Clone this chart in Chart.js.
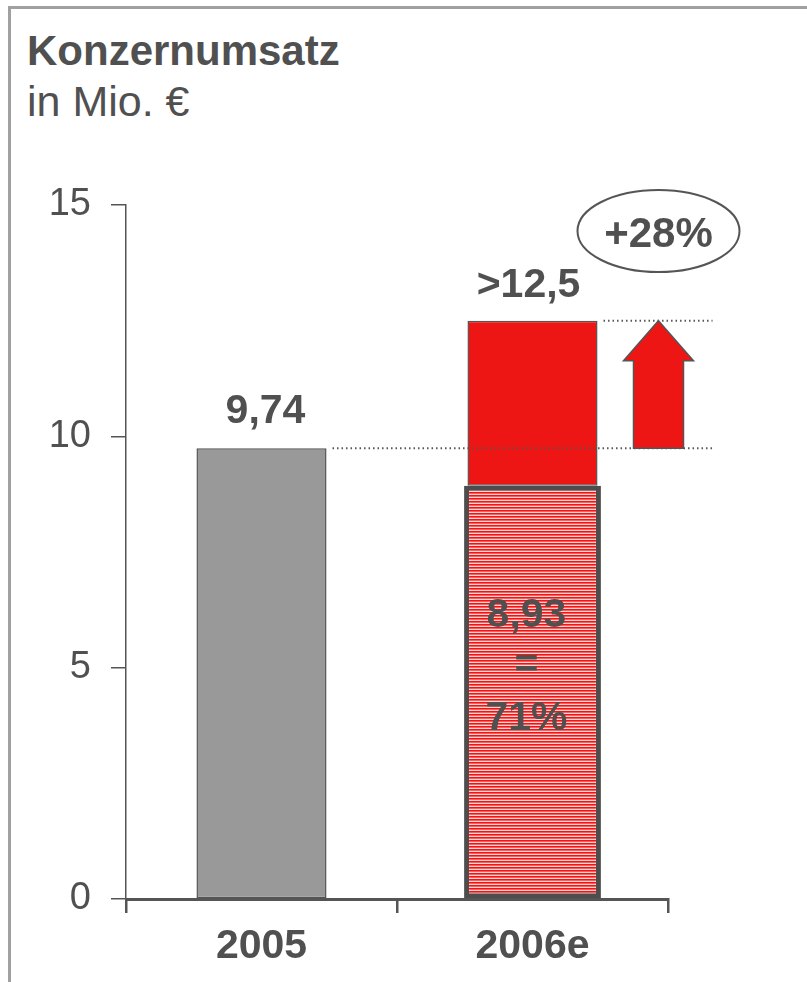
<!DOCTYPE html>
<html>
<head>
<meta charset="utf-8">
<script src="https://cdn.jsdelivr.net/npm/chart.js@4.4.0/dist/chart.umd.min.js"></script>
<style>
  html, body { margin: 0; padding: 0; background: #fff; overflow: hidden; }
  body { width: 807px; height: 982px; position: relative; font-family: "Liberation Sans", Arial, sans-serif; color: #505050; }
  .frame { position: absolute; left: 8px; top: 6px; width: 900px; height: 1100px; border: 3px solid #a0a0a0; box-sizing: border-box; }
  .title { position: absolute; left: 27px; top: 30px; font-size: 42px; font-weight: bold; line-height: 1; white-space: nowrap; }
  .unit { position: absolute; left: 27px; top: 80px; font-size: 43px; line-height: 1; white-space: nowrap; }
  #chart { position: absolute; left: 0; top: 0; }
</style>
</head>
<body>
<div class="frame"></div>
<div class="title">Konzernumsatz</div>
<div class="unit">in Mio. €</div>
<canvas id="chart" width="807" height="982"></canvas>
<script>
// Werte aus dem Bild
const years = ['2005', '2006e'];
const actualValues = [9.74, null];     // Umsatz 2005
const securedValues = [null, 8.93];    // bereits gesichert 2006
const targetValues = [null, 12.5];     // Ziel 2006
const valueLabels = ['9,74', '>12,5'];
const securedLabels = ['8,93', '=', '71%'];
const growthLabel = '+28%';
const yTicks = [0, 5, 10, 15];

const textColor = '#505050';
const lineColor = '#555555';
const fontFamily = '"Liberation Sans", Arial, sans-serif';

// horizontale Schraffur fuer den gesicherten Anteil
function makeStripes() {
    const c = document.createElement('canvas');
    c.width = 4;
    c.height = 3;
    const g = c.getContext('2d');
    g.fillStyle = '#ee1515'; g.fillRect(0, 0, 4, 1);
    g.fillStyle = '#ff5c5c'; g.fillRect(0, 1, 4, 1);
    g.fillStyle = '#ffd4d4'; g.fillRect(0, 2, 4, 1);
    return g.createPattern(c, 'repeat');
}

const annotations = {
    id: 'annotations',
    afterDatasetsDraw(chart) {
        const ctx = chart.ctx;
        const y = chart.scales.y;
        const barActual = chart.getDatasetMeta(2).data[0];
        const barTarget = chart.getDatasetMeta(1).data[1];
        const barSecured = chart.getDatasetMeta(0).data[1];
        const yActual = y.getPixelForValue(actualValues[0]);
        const yTarget = y.getPixelForValue(targetValues[1]);
        const arrowX = barTarget.x + 126;

        ctx.save();
        // gepunktete Hilfslinien
        ctx.strokeStyle = lineColor;
        ctx.lineWidth = 2;
        ctx.setLineDash([1.5, 3]);
        ctx.beginPath();
        ctx.moveTo(barActual.x + barActual.width / 2 + 6, yActual);
        ctx.lineTo(arrowX + 54, yActual);
        ctx.moveTo(barTarget.x + barTarget.width / 2 + 6, yTarget);
        ctx.lineTo(arrowX + 54, yTarget);
        ctx.stroke();
        ctx.setLineDash([]);

        // Pfeil
        ctx.beginPath();
        ctx.moveTo(arrowX, yTarget);
        ctx.lineTo(arrowX + 35, yTarget + 40);
        ctx.lineTo(arrowX + 25, yTarget + 40);
        ctx.lineTo(arrowX + 25, yActual);
        ctx.lineTo(arrowX - 25, yActual);
        ctx.lineTo(arrowX - 25, yTarget + 40);
        ctx.lineTo(arrowX - 35, yTarget + 40);
        ctx.closePath();
        ctx.fillStyle = '#ee1515';
        ctx.fill();
        ctx.lineWidth = 1.5;
        ctx.strokeStyle = lineColor;
        ctx.stroke();

        // Ellipse mit Wachstum
        const ey = y.getPixelForValue(15) + 26;
        ctx.beginPath();
        ctx.ellipse(arrowX, ey, 81, 41, 0, 0, Math.PI * 2);
        ctx.lineWidth = 2;
        ctx.stroke();

        ctx.fillStyle = textColor;
        ctx.textAlign = 'center';
        ctx.textBaseline = 'alphabetic';
        ctx.font = 'bold 42px ' + fontFamily;
        ctx.fillText(growthLabel, arrowX, ey + 16);

        // Werte ueber den Balken
        ctx.font = 'bold 41px ' + fontFamily;
        ctx.fillText(valueLabels[0], barActual.x + 4, yActual - 25);
        ctx.fillText(valueLabels[1], barTarget.x - 4, yTarget - 24);

        // Text im schraffierten Balken
        ctx.fillText(securedLabels[0], barSecured.x - 6, 627);
        ctx.fillText(securedLabels[1], barSecured.x - 6, 677);
        ctx.fillText(securedLabels[2], barSecured.x - 6, 730);
        ctx.restore();
    }
};

new Chart(document.getElementById('chart'), {
    type: 'bar',
    data: {
        labels: years,
        datasets: [
            {
                label: 'gesichert',
                data: securedValues.map(v => v === null ? null : [0, v]),
                backgroundColor: makeStripes(),
                borderColor: '#4d4d4d',
                borderWidth: 5,
                borderSkipped: false,
                barPercentage: 0.505
            },
            {
                label: 'Ziel',
                data: targetValues.map((v, i) => v === null ? null : [securedValues[i], v]),
                backgroundColor: '#ee1515',
                borderColor: lineColor,
                borderWidth: 1.5,
                borderSkipped: false
            },
            {
                label: 'Ist',
                data: actualValues.map(v => v === null ? null : [0, v]),
                backgroundColor: '#999999',
                borderColor: lineColor,
                borderWidth: 1.5,
                borderSkipped: false
            }
        ]
    },
    options: {
        responsive: false,
        animation: false,
        events: [],
        barPercentage: 0.48,
        categoryPercentage: 1,
        layout: { padding: { top: 205, right: 139, bottom: 0, left: 0 } },
        plugins: {
            legend: { display: false },
            tooltip: { enabled: false }
        },
        scales: {
            x: {
                stacked: true,
                offset: true,
                border: { color: lineColor, width: 3 },
                grid: { offset: true, drawOnChartArea: false, tickLength: 14, color: lineColor, lineWidth: 2.5 },
                ticks: { color: textColor, padding: 9, font: { family: fontFamily, size: 41, weight: 'bold' } },
                afterFit: scale => { scale.height = 83; }
            },
            y: {
                min: 0,
                max: 15,
                afterBuildTicks: scale => { scale.ticks = yTicks.map(v => ({ value: v })); },
                border: { color: lineColor, width: 1.5 },
                grid: { drawOnChartArea: false, tickLength: 15, color: lineColor, lineWidth: 1.5 },
                ticks: { color: textColor, padding: 20, font: { family: fontFamily, size: 38 } },
                afterFit: scale => { scale.width = 126; }
            }
        }
    },
    plugins: [annotations]
});
</script>
</body>
</html>
